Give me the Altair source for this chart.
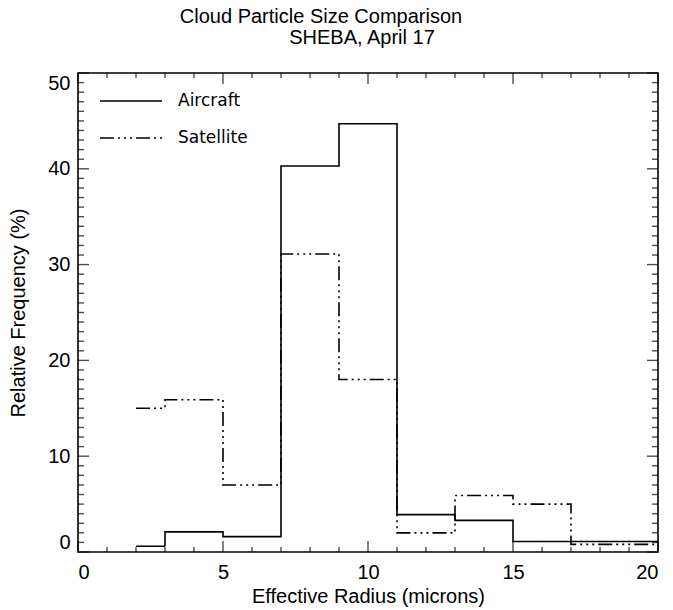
import altair as alt
import pandas as pd

# ---- data ----
bin_edges = [2, 3, 5, 7, 9, 11, 13, 15, 17, 19, 20]
aircraft = [0.6, 2.1, 1.6, 40.3, 44.7, 3.9, 3.3, 1.1, 1.1, 1.1]
satellite = [15.0, 15.9, 7.0, 31.1, 18.0, 2.0, 5.9, 5.0, 0.8, 0.8]
series_names = ["Aircraft", "Satellite"]

x_major = [0, 5, 10, 15, 20]
x_minor = [v for v in range(0, 21) if v not in x_major]
y_major = [0, 10, 20, 30, 40, 50]
y_minor = [v for v in range(0, 51) if v not in y_major]

title_lines = ["Cloud Particle Size Comparison", "SHEBA, April 17"]
x_title = "Effective Radius (microns)"
y_title = "Relative Frequency (%)"

# ---- build step table ----
rows = []
for name, vals in zip(series_names, [aircraft, satellite]):
    for i, v in enumerate(vals):
        rows.append({"series": name, "x": bin_edges[i], "y": v})
    rows.append({"series": name, "x": bin_edges[-1], "y": vals[-1]})
df = pd.DataFrame(rows)

W, H = 580, 479
FONT = "Liberation Sans"
DASH = [14, 4, 2, 4, 2, 4, 2, 4]

xs = alt.Scale(domain=[0, 20], nice=False, zero=False)
ys = alt.Scale(domain=[0, 50], nice=False, zero=False)

base_axis_x = alt.Axis(values=x_major, ticks=False, domain=False, grid=False,
                       labelFontSize=20, labelFont=FONT, labelColor="black",
                       labelPadding=10, title=x_title, titleFont=FONT,
                       titleFontSize=20, titleFontWeight="normal",
                       titleColor="black", titlePadding=4, format="d")
base_axis_y = alt.Axis(values=y_major, ticks=False, domain=False, grid=False,
                       labelFontSize=20, labelFont=FONT, labelColor="black",
                       labelPadding=8, labelFlush=True, title=y_title,
                       titleFont=FONT, titleFontSize=20,
                       titleFontWeight="normal", titleColor="black",
                       titlePadding=19, format="d")

lines = alt.Chart(df).mark_line(interpolate="step-after", color="black",
                                strokeWidth=1.6, clip=True).encode(
    x=alt.X("x:Q", scale=xs, axis=base_axis_x),
    y=alt.Y("y:Q", scale=ys, axis=base_axis_y),
    strokeDash=alt.StrokeDash("series:N",
                              scale=alt.Scale(domain=series_names,
                                              range=[[1, 0], DASH]),
                              legend=None),
    detail="series:N",
)

# inward ticks on all four sides
def xticks(vals, length, top):
    d = pd.DataFrame({"v": vals})
    yv = length / 2 if top else H - length / 2
    return alt.Chart(d).mark_tick(orient="vertical", color="black",
                                  thickness=1.4, size=length).encode(
        x=alt.X("v:Q", scale=xs), y=alt.value(yv))

def yticks(vals, length, right):
    d = pd.DataFrame({"v": vals})
    xv = W - length / 2 if right else length / 2
    return alt.Chart(d).mark_tick(orient="horizontal", color="black",
                                  thickness=1.4, size=length).encode(
        y=alt.Y("v:Q", scale=ys), x=alt.value(xv))

ticks = [
    xticks(x_major, 11, False), xticks(x_minor, 5, False),
    xticks(x_major, 11, True), xticks(x_minor, 5, True),
    yticks(y_major, 11, False), yticks(y_minor, 6, False),
    yticks(y_major, 11, True), yticks(y_minor, 6, True),
]

one = alt.Data(values=[{}])

# legend
leg_y = [28, 65]
leg_layers = []
for name, yy, dash in zip(series_names, leg_y, [[1, 0], DASH]):
    leg_layers.append(alt.Chart(one).mark_rule(color="black", strokeWidth=1.6,
                                               strokeDash=dash).encode(
        x=alt.value(22), x2=alt.value(84), y=alt.value(yy)))
    leg_layers.append(alt.Chart(one).mark_text(
        align="left", baseline="middle", font="DejaVu Sans", fontSize=17,
        color="black").encode(x=alt.value(100), y=alt.value(yy),
                              text=alt.value(name)))

# title lines
t1 = alt.Chart(one).mark_text(align="center", baseline="alphabetic",
                              font=FONT, fontSize=20, color="black").encode(
    x=alt.value(243), y=alt.value(-50), text=alt.value(title_lines[0]))
t2 = alt.Chart(one).mark_text(align="center", baseline="alphabetic",
                              font=FONT, fontSize=20, color="black").encode(
    x=alt.value(284), y=alt.value(-29), text=alt.value(title_lines[1]))

chart = alt.layer(lines, *ticks, *leg_layers, t1, t2).properties(
    width=W, height=H,
    padding={"left": 78, "top": 73, "right": 15, "bottom": 58},
    autosize=alt.AutoSizeParams(type="none"),
    background="white",
).configure_view(stroke="black", strokeWidth=1.6)

chart.save("out.html", embed_options={"renderer": "svg", "actions": False})
